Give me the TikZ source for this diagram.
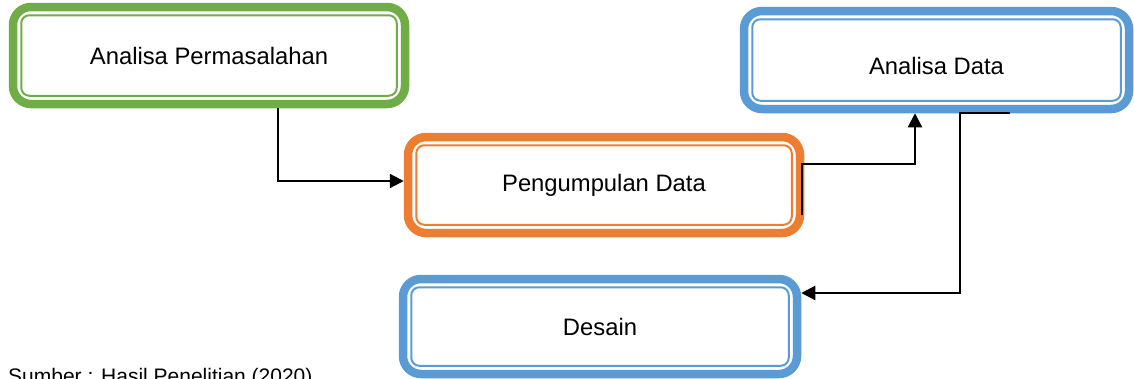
\documentclass[tikz,border=0pt]{standalone}
\usepackage{fontspec}
\setmainfont{Liberation Sans}
\usetikzlibrary{arrows.meta,calc}
\definecolor{cgreen}{HTML}{70AD47}
\definecolor{corange}{HTML}{ED7D31}
\definecolor{cblue}{HTML}{5B9BD5}
\newcommand\dblframe[2]{\draw[#2, line width=2pt, rounded corners=8pt] ([shift={(12.5pt,12.5pt)}]#1.south west) rectangle ([shift={(-12.5pt,-12.5pt)}]#1.north east);}
\begin{document}
\begin{tikzpicture}[x=1pt,y=-1pt,
  box/.style={draw, fill=white, line width=8.5pt, rounded corners=18pt, inner sep=0pt, text=black, font=\fontsize{23.8}{28}\selectfont},
  txt/.style={inner sep=0pt, text=black, font=\fontsize{23.8}{28}\selectfont},
  conn/.style={draw=black, line width=2.2pt},
  arr/.style={conn, -{Triangle[length=14pt,width=14pt]}}]
\useasboundingbox (0,0) rectangle (1134,378);
\node[box, draw=cgreen, minimum width=392pt, minimum height=97pt] (b1) at (209,55.5) {Analisa Permasalahan};
\dblframe{b1}{cgreen}
\node[box, draw=corange, minimum width=392pt, minimum height=96pt] (b2) at (604,185) {Pengumpulan Data};
\dblframe{b2}{corange}
\node[box, draw=cblue, minimum width=385pt, minimum height=98pt] (b3) at (936.5,60) {};
\dblframe{b3}{cblue}
\node[txt] (t3) at (936.5,65.5) {Analisa Data};
\node[box, draw=cblue, minimum width=394pt, minimum height=95pt] (b4) at (600,326.5) {Desain};
\dblframe{b4}{cblue}
\draw[arr] ([xshift=69pt]b1.south) |- ([yshift=4pt]b2.west);
\draw[arr] ([shift={(-2pt,-30pt)}]b2.east) -- ([shift={(-2pt,21pt)}]b2.east) -| ([xshift=-21.5pt]b3.south);
\draw[arr] ([xshift=73.5pt]b3.south) -- ([xshift=23.5pt]b3.south) |- ([yshift=33.5pt]b4.east);
\node[anchor=base west, inner sep=0pt, text=black, font=\fontsize{21}{25}\selectfont] (src) at (8,383) {Sumber : Hasil Penelitian (2020)};
\end{tikzpicture}
\end{document}
